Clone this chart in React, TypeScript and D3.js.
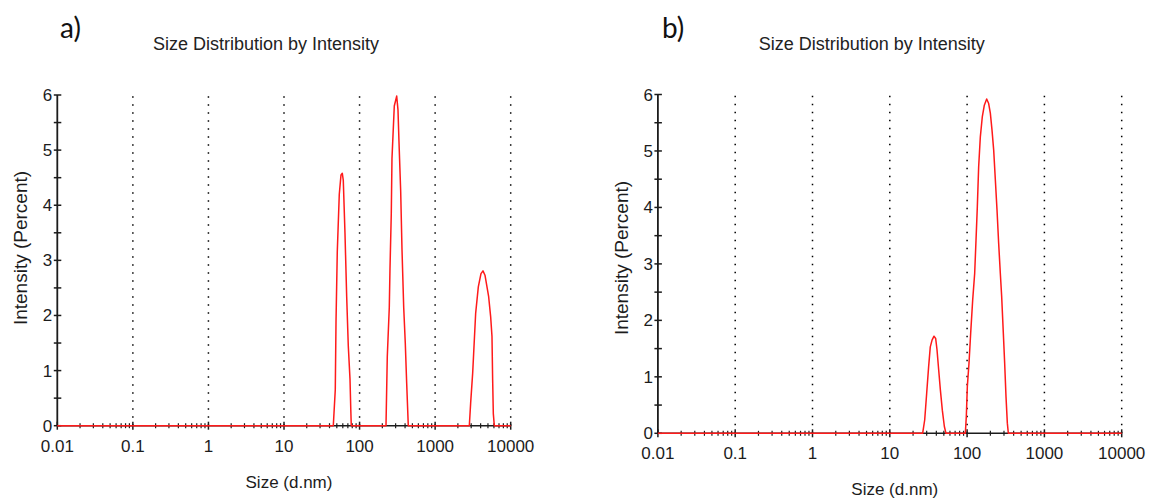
import React from "react";
import * as d3 from "d3";

// shared axis values
const sizeTicks = [0.01, 0.1, 1, 10, 100, 1000, 10000];
const sizeTickLabels = ["0.01", "0.1", "1", "10", "100", "1000", "10000"];
const intensityTicks = [0, 1, 2, 3, 4, 5, 6];
const intensityHalfTicks = [0.5, 1.5, 2.5, 3.5, 4.5, 5.5];

// panel a) size (d.nm) / intensity (%)
const sizesA = [
  0.01,
  44.9, 47.7, 48.8, 50.7, 53.9, 56.8, 59.1, 60.9, 64.1, 67.5, 70.9, 74.7, 76.5, 77.7,
  223.7, 232.7, 247.4, 252.7, 262.9, 268.5, 288.1, 309.9, 322.4, 332.4, 350.1, 364.3, 383.7, 402.7, 420.3, 441.3,
  2834, 2951, 3137, 3234, 3438, 3728, 4043, 4297, 4567, 5108, 5428, 5654, 5770, 5888, 6070,
  10000,
];
const intensityA = [
  0,
  0, 0.65, 1.9, 3.15, 4.2, 4.55, 4.58, 4.45, 3.5, 2.35, 1.45, 0.85, 0.3, 0,
  0, 1.25, 2.15, 2.85, 3.85, 4.85, 5.8, 5.98, 5.73, 5.15, 4.25, 3.2, 2.15, 1.5, 0.77, 0,
  0, 0.41, 0.95, 1.31, 2.04, 2.52, 2.76, 2.81, 2.73, 2.34, 1.98, 1.62, 0.83, 0.22, 0,
  0,
];

// panel b)
const sizesB = [
  0.01,
  26.6, 28.3, 30.0, 31.8, 33.4, 35.2, 37.3, 39.2, 40.8, 42.9, 45.1, 47.8, 50.8, 53.3,
  94.9, 97.7, 100.7, 105.8, 111.2, 118.1, 125.3, 130.4, 135.6, 141.1, 148.3, 157.4, 167.1, 179.2,
  190.1, 199.8, 210.0, 220.7, 231.9, 243.7, 256.1, 269.1, 280.1, 294.3, 306.2, 318.6, 331.5, 341.6,
  10000,
];
const intensityB = [
  0,
  0, 0.24, 0.71, 1.18, 1.53, 1.65, 1.72, 1.68, 1.48, 1.12, 0.77, 0.41, 0.12, 0,
  0, 0.3, 0.83, 1.24, 1.77, 2.36, 2.83, 3.42, 4.01, 4.72, 5.25, 5.61, 5.81, 5.92,
  5.84, 5.67, 5.37, 5.02, 4.49, 3.96, 3.36, 2.83, 2.42, 1.77, 1.24, 0.65, 0.18, 0,
  0,
];

const font = "'Liberation Sans', Arial, sans-serif";
const ink = "#1c1c1c";

type PanelProps = {
  tag: string;
  sizes: number[];
  values: number[];
  left: number;
  right: number;
  top: number;
  bottom: number;
  tagX: number;
  titleY: number;
  yTitleX: number;
  yTitleY: number;
};

function Panel(p: PanelProps) {
  const x = d3.scaleLog().domain([0.01, 10000]).range([p.left, p.right]);
  const y = d3.scaleLinear().domain([0, 6]).range([p.bottom, p.top]);
  const minor = x.ticks().filter((t) => !sizeTicks.some((m) => Math.abs(m - t) / m < 1e-6));
  const path = d3
    .line<number>()
    .x((_, i) => x(p.sizes[i]))
    .y((d) => y(d))(p.values);
  const cx = (p.left + p.right) / 2;

  return (
    <g>
      <text x={p.tagX} y={38} fontFamily="Lato, 'Open Sans', sans-serif" fontSize={28} fill="#111">
        {p.tag}
      </text>
      <text x={cx - 18} y={p.titleY} textAnchor="middle" fontFamily={font} fontSize={18} fill="#222">
        Size Distribution by Intensity
      </text>

      {/* dotted verticals */}
      {sizeTicks.slice(1).map((t) => (
        <line
          key={"g" + t}
          x1={x(t)}
          x2={x(t)}
          y1={y(0)}
          y2={y(6)}
          stroke="#000"
          strokeWidth={1.5}
          strokeDasharray="1.5,6.5"
        />
      ))}

      {/* y axis */}
      <line x1={p.left} x2={p.left} y1={y(0)} y2={y(6)} stroke={ink} strokeWidth={1.8} />
      {intensityTicks.map((t) => (
        <g key={"y" + t}>
          <line x1={p.left - 3.5} x2={p.left + 4} y1={y(t)} y2={y(t)} stroke={ink} strokeWidth={1.5} />
          <text
            x={p.left - 5}
            y={y(t) + 6}
            textAnchor="end"
            fontFamily={font}
            fontSize={17}
            fill={ink}
          >
            {t}
          </text>
        </g>
      ))}
      {intensityHalfTicks.map((t) => (
        <line key={"yh" + t} x1={p.left - 3.5} x2={p.left + 4} y1={y(t)} y2={y(t)} stroke={ink} strokeWidth={1.5} />
      ))}

      {/* x axis */}
      <line x1={p.left} x2={p.right} y1={y(0)} y2={y(0)} stroke={ink} strokeWidth={1.5} />
      {minor.map((t) => (
        <line key={"xm" + t} x1={x(t)} x2={x(t)} y1={y(0) - 2.5} y2={y(0) + 2.5} stroke={ink} strokeWidth={1.2} />
      ))}
      {sizeTicks.map((t, i) => (
        <g key={"x" + t}>
          <line x1={x(t)} x2={x(t)} y1={y(0) - 4} y2={y(0) + 4} stroke={ink} strokeWidth={1.5} />
          <text
            x={x(t)}
            y={y(0) + 26}
            textAnchor="middle"
            fontFamily={font}
            fontSize={17}
            fill={ink}
          >
            {sizeTickLabels[i]}
          </text>
        </g>
      ))}

      <path d={path ?? ""} fill="none" stroke="#ff1a1a" strokeWidth={1.5} strokeLinejoin="round" />

      <text x={cx + 5} y={y(0) + 62} textAnchor="middle" fontFamily={font} fontSize={17} fill={ink}>
        Size (d.nm)
      </text>
      <text
        transform={`translate(${p.yTitleX},${p.yTitleY}) rotate(-90)`}
        textAnchor="middle"
        fontFamily={font}
        fontSize={19}
        fill={ink}
      >
        Intensity (Percent)
      </text>
    </g>
  );
}

export default function App() {
  return (
    <svg
      width={1149}
      height={498}
      style={{ position: "absolute", left: 0, top: 0, background: "#fff" }}
    >
      <Panel
        tag="a)"
        sizes={sizesA}
        values={intensityA}
        left={57.3}
        right={510.7}
        top={95}
        bottom={425.7}
        tagX={60}
        titleY={50}
        yTitleX={27}
        yTitleY={248}
      />
      <Panel
        tag="b)"
        sizes={sizesB}
        values={intensityB}
        left={657.9}
        right={1121.7}
        top={94.5}
        bottom={433.3}
        tagX={662}
        titleY={50}
        yTitleX={628}
        yTitleY={258}
      />
    </svg>
  );
}
